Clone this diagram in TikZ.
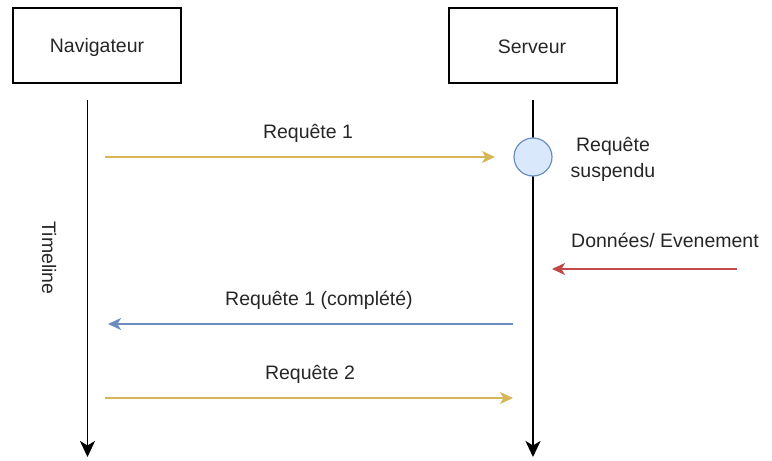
\documentclass[tikz,border=0pt]{standalone}
\usepackage{fontspec}
\setmainfont{Liberation Sans}
\usetikzlibrary{arrows.meta}
\definecolor{reqyellow}{HTML}{D6B656}
\definecolor{respblue}{HTML}{6C8EBF}
\definecolor{evtred}{HTML}{C0484A}
\definecolor{waitfill}{HTML}{DAE8FC}
\begin{document}
\begin{tikzpicture}[x=1pt,y=-1pt,
  font=\fontsize{19.5}{23}\selectfont,
  actor/.style={draw=black,line width=1.8pt,minimum width=168pt,minimum height=75pt,inner sep=0pt},
  lifeline/.style={draw=black,line width=1.9pt,-{Stealth[length=16pt,width=15pt,inset=4.5pt]}},
  msg/.style={line width=1.4pt,-{Stealth[length=13pt,width=12pt,inset=3.5pt]}},
  lbl/.style={anchor=base,inner sep=0pt,text=black!85}]
\useasboundingbox (0,0) rectangle (772,461);

% participants
\node[actor] (nav) at (97,45.5) {};
\node[lbl] (navtxt) at (97,52) {Navigateur};
\node[actor] (srv) at (533,45.5) {};
\node[lbl] (srvtxt) at (532,53) {Serveur};

% lifelines
\coordinate (navtop) at (87.5,100);
\coordinate (navbot) at (87.5,457);
\coordinate (srvtop) at (533,100);
\coordinate (srvbot) at (533,457);
\draw[lifeline] (navtop) -- (navbot);
\draw[lifeline] (srvtop) -- (srvbot);

% timeline label
\node[rotate=-90,inner sep=0pt,text=black!85] (timeline) at (49,258) {Timeline};

% suspended request marker
\node[circle,draw=respblue,fill=waitfill,line width=1.2pt,minimum size=38pt,inner sep=0pt] (wait) at (533,157) {};
\node[align=center,inner sep=0pt,text=black!85,font=\fontsize{19.5}{26}\selectfont] (waittxt) at (613,159) {Requête\\suspendu};

% request 1
\coordinate (r1a) at (105,157);
\coordinate (r1b) at (495,157);
\draw[msg,reqyellow] (r1a) -- (r1b);
\node[lbl] (r1txt) at (308,138) {Requête 1};

% incoming data / event
\coordinate (eva) at (737,269);
\coordinate (evb) at (552,269);
\draw[msg,evtred] (eva) -- (evb);
\node[lbl] (evtxt) at (665,247) {Données/ Evenement};

% request 1 completed
\coordinate (c1a) at (513,324);
\coordinate (c1b) at (108,324);
\draw[msg,respblue] (c1a) -- (c1b);
\node[lbl] (c1txt) at (319,305) {Requête 1 (complété)};

% request 2
\coordinate (r2a) at (105,398);
\coordinate (r2b) at (513,398);
\draw[msg,reqyellow] (r2a) -- (r2b);
\node[lbl] (r2txt) at (310,379) {Requête 2};
\end{tikzpicture}
\end{document}
